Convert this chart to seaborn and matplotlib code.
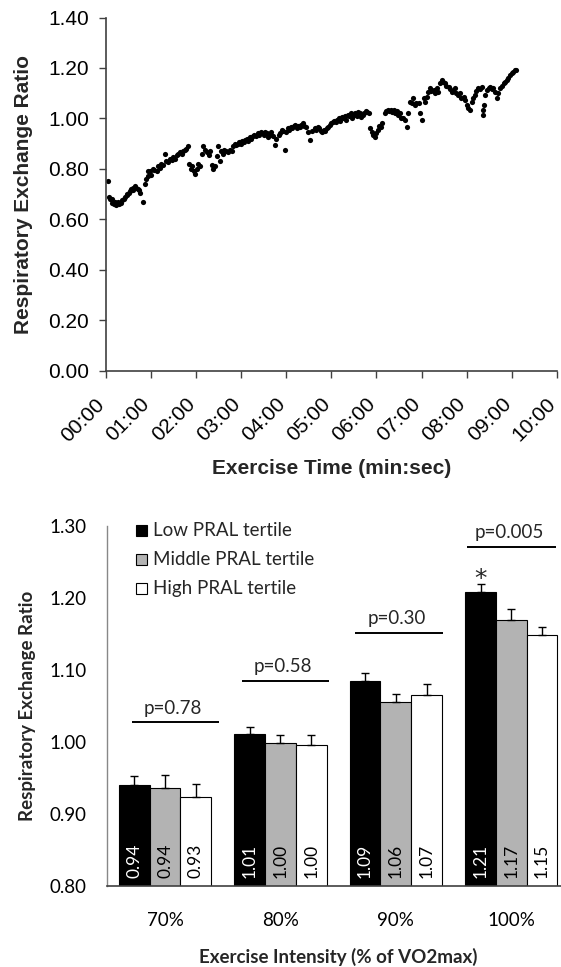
import numpy as np
import pandas as pd
import matplotlib
matplotlib.use("Agg")
import matplotlib.pyplot as plt
import seaborn as sns
from matplotlib.patches import Rectangle
from matplotlib.ticker import FuncFormatter

# ---------------- TOP PANEL: breath-by-breath RER ----------------
time_s = [
    3, 5, 6, 8, 9, 11, 12, 14, 15, 17, 18, 20, 22, 24, 26, 28, 29, 31, 33, 34,
    36, 37, 39, 41, 43, 44, 46, 50, 52, 54, 56, 57, 59,
    61, 63, 65, 68, 70, 72, 74, 76, 79, 81, 83, 86, 88, 90, 92, 95, 97, 99,
    101, 103, 105, 107, 109, 111, 113, 115, 117, 119,
    121, 123, 125, 128, 130, 132, 135, 137, 139, 141, 143, 145, 148, 150, 152,
    154, 156, 158, 160, 163, 165, 168, 170, 172, 174, 176, 178,
    180, 182, 184, 186, 188, 190, 192, 194, 196, 198, 200, 202, 204, 206, 208,
    210, 212, 214, 216, 218, 220, 222, 225, 227, 230, 232, 234, 236, 238,
    240, 242, 244, 246, 248, 250, 252, 254, 256, 258, 260, 262, 264, 266, 269,
    272, 275, 278, 280, 282, 284, 286, 288, 290, 292, 294, 296, 298,
    300, 302, 304, 306, 308, 310, 312, 314, 316, 318, 320, 322, 324, 326, 328,
    330, 332, 334, 336, 338, 340, 342, 344, 346, 348, 350, 352, 354, 356, 358,
    360, 362, 364, 366, 368, 371, 373, 375, 377, 379, 381, 383, 385, 387, 389,
    391, 393, 395, 398, 400, 402, 405, 407, 409, 411, 413, 416, 418,
    420, 423, 425, 427, 429, 431, 433, 436, 438, 440, 442, 445, 447, 449, 451,
    453, 456, 458, 460, 462, 464, 466, 469, 471, 473, 476, 478,
    480, 482, 484, 487, 489, 491, 493, 495, 498, 500, 501, 502, 503, 504, 507,
    509, 511, 513, 515, 518, 520, 522, 524, 527, 529, 531, 533,
    535, 538, 540, 542, 544, 546,
]
rer = [
    0.75, 0.69, 0.68, 0.665, 0.68, 0.66, 0.67, 0.655, 0.665, 0.67, 0.66, 0.665, 0.675, 0.68, 0.69, 0.70, 0.695, 0.705, 0.71, 0.72,
    0.715, 0.725, 0.73, 0.725, 0.72, 0.715, 0.705, 0.67, 0.74, 0.76, 0.77, 0.79, 0.79,
    0.775, 0.80, 0.795, 0.79, 0.81, 0.805, 0.82, 0.815, 0.86, 0.83, 0.825, 0.84, 0.835, 0.845, 0.84, 0.855, 0.86, 0.865,
    0.86, 0.87, 0.875, 0.88, 0.89, 0.82, 0.80, 0.81, 0.79, 0.78,
    0.80, 0.82, 0.81, 0.86, 0.89, 0.875, 0.865, 0.855, 0.87, 0.815, 0.80, 0.81, 0.85, 0.89, 0.83,
    0.87, 0.86, 0.875, 0.87, 0.865, 0.875, 0.87, 0.89, 0.90, 0.895, 0.90, 0.905,
    0.90, 0.91, 0.905, 0.915, 0.92, 0.91, 0.925, 0.92, 0.93, 0.935, 0.93, 0.94, 0.935, 0.945, 0.94,
    0.935, 0.945, 0.94, 0.925, 0.935, 0.945, 0.93, 0.895, 0.92, 0.935, 0.94, 0.955, 0.95, 0.875,
    0.945, 0.96, 0.955, 0.965, 0.96, 0.97, 0.975, 0.96, 0.97, 0.965, 0.975, 0.98, 0.97, 0.965, 0.947,
    0.914, 0.95, 0.96, 0.955, 0.965, 0.96, 0.95, 0.945, 0.955, 0.95, 0.96, 0.965, 0.975,
    0.98, 0.985, 0.99, 0.985, 0.995, 1.00, 0.99, 1.005, 1.00, 1.01, 0.995, 1.015, 1.01, 1.02, 1.00,
    1.015, 1.02, 1.01, 1.025, 1.02, 1.005, 1.015, 1.02, 1.03, 1.025, 1.02, 0.96, 0.945, 0.935, 0.925,
    0.94, 0.955, 0.97, 0.965, 0.98, 1.02, 1.03, 1.035, 1.03, 1.035, 1.025, 1.035, 1.02, 1.03, 1.015,
    1.02, 1.00, 1.00, 0.994, 0.967, 1.02, 1.066, 1.06, 1.08, 1.053, 1.06, 1.06, 1.02,
    0.994, 1.08, 1.066, 1.086, 1.106, 1.12, 1.11, 1.113, 1.10, 1.12, 1.106, 1.14, 1.152, 1.145, 1.139,
    1.13, 1.126, 1.115, 1.106, 1.11, 1.12, 1.10, 1.093, 1.10, 1.08, 1.085, 1.073,
    1.053, 1.04, 1.033, 1.066, 1.08, 1.093, 1.11, 1.12, 1.115, 1.126, 1.013, 1.033, 1.053, 1.093, 1.113,
    1.12, 1.126, 1.118, 1.12, 1.106, 1.08, 1.10, 1.12, 1.13, 1.139, 1.145, 1.152,
    1.16, 1.172, 1.178, 1.185, 1.19, 1.192,
]

# ---------------- BOTTOM PANEL: RER by PRAL tertile ----------------
intensity = ["70%", "80%", "90%", "100%"]
tertiles = ["Low PRAL tertile", "Middle PRAL tertile", "High PRAL tertile"]
low_rer = [0.940, 1.011, 1.084, 1.208]
mid_rer = [0.936, 0.998, 1.055, 1.169]
high_rer = [0.924, 0.995, 1.065, 1.148]
low_err = [0.013, 0.010, 0.011, 0.011]
mid_err = [0.018, 0.011, 0.011, 0.015]
high_err = [0.018, 0.014, 0.015, 0.011]
low_lbl = ["0.94", "1.01", "1.09", "1.21"]
mid_lbl = ["0.94", "1.00", "1.06", "1.17"]
high_lbl = ["0.93", "1.00", "1.07", "1.15"]
p_labels = ["p=0.78", "p=0.58", "p=0.30", "p=0.005"]
p_line_y = [1.027, 1.084, 1.151, 1.270]
p_line_x0 = [-0.29, 0.67, 1.645, 2.62]
p_line_x1 = [0.47, 1.42, 2.405, 3.385]

bar_colors = ["black", "#b3b3b3", "white"]
lbl_colors = ["white", "black", "black"]

sns.set_theme(style="white")
plt.rcParams["font.family"] = ["Liberation Sans", "DejaVu Sans"]

W, H = 561, 967
fig = plt.figure(figsize=(W / 100, H / 100), dpi=100)
ax1 = fig.add_axes([105.5 / W, 1 - 370.5 / H, (557 - 105.5) / W, (370.5 - 17.5) / H])
ax2 = fig.add_axes([107.3 / W, 1 - 886 / H, (569 - 107.3) / W, (886 - 525.5) / H])

# ---- top scatter ----
sns.scatterplot(x=time_s, y=rer, ax=ax1, color="black", s=14, linewidth=0, legend=False)
ax1.set_xlim(0, 600)
ax1.set_ylim(0, 1.4)
ax1.set_xticks(range(0, 601, 60))
ax1.set_yticks(np.arange(0, 1.41, 0.2))
ax1.xaxis.set_major_formatter(FuncFormatter(lambda v, p: f"{int(v) // 60:02d}:{int(v) % 60:02d}"))
ax1.yaxis.set_major_formatter(FuncFormatter(lambda v, p: f"{v:.2f}"))
ax1.tick_params(axis="both", direction="out", length=5, width=1, color="#404040",
                labelsize=15, bottom=True, left=True, labelcolor="black")
ax1.tick_params(axis="x", pad=20)
ax1.tick_params(axis="y", pad=7)
plt.setp(ax1.get_xticklabels(), rotation=45, ha="right", va="baseline", rotation_mode="anchor")
for s in ["top", "right"]:
    ax1.spines[s].set_visible(False)
for s in ["left", "bottom"]:
    ax1.spines[s].set_color("#404040")
    ax1.spines[s].set_linewidth(1.2)
ax1.set_xlabel("Exercise Time (min:sec)", fontsize=15, fontweight="bold")
ax1.set_ylabel("Respiratory Exchange Ratio", fontsize=15, fontweight="bold")
ax1.xaxis.set_label_coords(0.5, -0.25)
ax1.yaxis.set_label_coords(-0.16, 0.5)

# ---- bottom bars ----
df = pd.DataFrame({
    "intensity": intensity * 3,
    "tertile": [t for t in tertiles for _ in intensity],
    "rer": low_rer + mid_rer + high_rer,
})
sns.barplot(data=df, x="intensity", y="rer", hue="tertile", palette=bar_colors,
            saturation=1, edgecolor="black", linewidth=0.8, width=0.8,
            errorbar=None, legend=False, ax=ax2)
ax2.set_ylim(0.8, 1.3)
ax2.set_xlim(-0.5, 3.5)
ax2.set_yticks(np.arange(0.8, 1.31, 0.1))
ax2.yaxis.set_major_formatter(FuncFormatter(lambda v, p: f"{v:.2f}"))

font2 = "Lato"
errs = [low_err, mid_err, high_err]
lbls = [low_lbl, mid_lbl, high_lbl]
bar_groups = list(ax2.containers[:3])
for i, cont in enumerate(bar_groups):
    for bar, e, lab in zip(cont, errs[i], lbls[i]):
        x = bar.get_x() + bar.get_width() / 2
        y = bar.get_height()
        ax2.errorbar(x, y, yerr=[[0], [e]], fmt="none", ecolor="black",
                     elinewidth=1, capsize=3, capthick=1)
        ax2.annotate(lab, (x, 0.8), xytext=(0, 6), textcoords="offset points",
                     rotation=90, ha="center", va="bottom", color=lbl_colors[i],
                     fontsize=12.5, family=font2, annotation_clip=False)

for lab, ly, x0, x1 in zip(p_labels, p_line_y, p_line_x0, p_line_x1):
    ax2.plot([x0, x1], [ly, ly], color="black", lw=1.4, solid_capstyle="butt")
    ax2.text((x0 + x1) / 2 - 0.02, ly + 0.008, lab, ha="center", va="bottom",
             fontsize=13.5, family=font2)
ax2.text(3 - 0.267, 1.226, "*", ha="center", va="center", fontsize=18, family="DejaVu Sans")

# legend drawn by hand, Excel style
leg_y = [0.985, 0.906, 0.824]
for name, col, ly in zip(tertiles, bar_colors, leg_y):
    ax2.add_patch(Rectangle((0.0615, ly - 0.0153), 0.0238, 0.0305, transform=ax2.transAxes,
                            facecolor=col, edgecolor="black", lw=0.8, clip_on=False))
    ax2.text(0.099, ly, name, transform=ax2.transAxes, ha="left", va="center",
             fontsize=13.5, family=font2)

ax2.tick_params(axis="both", length=0, labelsize=13.5, labelcolor="black")
ax2.tick_params(axis="x", pad=19)
ax2.tick_params(axis="y", pad=15)
for lab in ax2.get_xticklabels() + ax2.get_yticklabels():
    lab.set_family(font2)
for s in ["top", "right"]:
    ax2.spines[s].set_visible(False)
ax2.spines["left"].set_color("#888888")
ax2.spines["left"].set_linewidth(1)
ax2.spines["bottom"].set_color("#404040")
ax2.spines["bottom"].set_linewidth(1.2)
ax2.set_xlabel("Exercise Intensity (% of VO2max)", fontsize=13.5, fontweight="bold", family=font2)
ax2.set_ylabel("Respiratory Exchange Ratio", fontsize=13.5, fontweight="bold", family=font2)
ax2.xaxis.set_label_coords(0.5, -0.172)
ax2.yaxis.set_label_coords(-0.154, 0.5)

fig.savefig("out.png", dpi=100)
